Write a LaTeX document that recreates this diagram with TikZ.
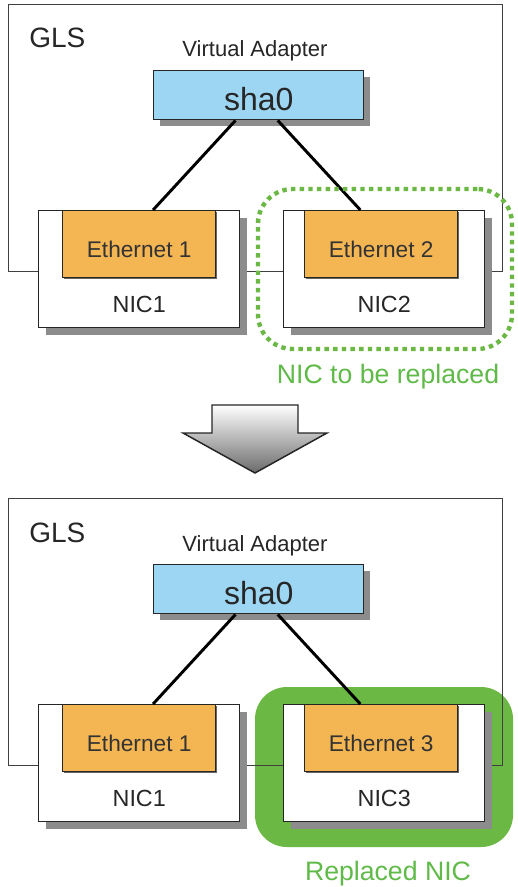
\documentclass[tikz,border=0pt]{standalone}
\usepackage{fontspec}
\setmainfont{Liberation Sans}
\usetikzlibrary{calc,shadows}
\definecolor{blueA}{HTML}{9DD6F3}
\definecolor{orangeA}{HTML}{F4B553}
\definecolor{greenA}{HTML}{6BB845}
\definecolor{greenT}{HTML}{5FBA48}
\definecolor{shadowA}{HTML}{8C8C8C}
\tikzset{
  glsbox/.style={draw=black!75, line width=0.8pt, inner sep=0pt, anchor=north west,
    minimum width=494*0.75pt, minimum height=267*0.75pt},
  glslabel/.style={font=\fontsize{21}{21}\selectfont, text=black!85, anchor=base west, inner sep=0pt},
  valabel/.style={font=\fontsize{16.5}{16.5}\selectfont, text=black!85, anchor=base, inner sep=0pt},
  shabox/.style={draw=black!85, line width=1.1pt, fill=blueA, inner sep=0pt, anchor=north west,
    minimum width=210*0.75pt, text height=40*0.75pt, text depth=9*0.75pt,
    font=\fontsize{24}{24}\selectfont, text=black!85,
    drop shadow={shadow xshift=4.5pt, shadow yshift=-5pt, fill=shadowA, opacity=1}},
  nicbox/.style={draw=black!85, line width=1.1pt, fill=white, inner sep=0pt, anchor=north west,
    minimum width=201*0.75pt, text height=102*0.75pt, text depth=15*0.75pt,
    font=\fontsize{17.5}{17.5}\selectfont, text=black!85,
    drop shadow={shadow xshift=5.5pt, shadow yshift=-5.5pt, fill=shadowA, opacity=1}},
  ethbox/.style={draw=black!85, line width=1pt, fill=orangeA, inner sep=0pt, anchor=north west,
    minimum width=153*0.75pt, text height=47*0.75pt, text depth=20*0.75pt,
    font=\fontsize{17}{17}\selectfont, text=black!80,
    drop shadow={shadow xshift=1.2pt, shadow yshift=-1.2pt, fill=black!60, opacity=1}},
  link/.style={line width=2.2pt, black},
  notelabel/.style={font=\fontsize{20}{20}\selectfont, text=greenT, anchor=base, inner sep=0pt},
  dotring/.style={draw=greenA, line width=3.3pt, dash pattern=on 3.3pt off 3.2pt, rounded corners=26pt,
    minimum width=254*0.75pt, minimum height=160*0.75pt, inner sep=0pt},
  fillring/.style={fill=greenA, rounded corners=24pt,
    minimum width=258*0.75pt, minimum height=160*0.75pt, inner sep=0pt},
  downarrow/.style={draw=black!85, line width=1.1pt, top color=white, bottom color=black!58}
}
\newcommand\drawpanel[5]{%
  \begin{scope}[shift={(0,#2)}]
    \node[glsbox] (#1gls) at (8,4) {};
    \node[glslabel] (#1glst) at (29,48) {GLS};
    \node[valabel] (#1va) at (255,57) {Virtual Adapter};
    \node[shabox] (#1sha) at (153,70) {sha0};
    \node[nicbox] (#1nicA) at (38,210) {NIC1};
    \node[ethbox] (#1ethA) at (62,210) {Ethernet 1};
    \node[nicbox] (#1nicB) at (283,210) {#4};
    \node[ethbox] (#1ethB) at (304,210) {#3};
    \draw[link] ($(#1sha.south west)!0.39!(#1sha.south east)$) -- ($(#1ethA.north west)!0.59!(#1ethA.north east)$);
    \draw[link] ($(#1sha.south west)!0.59!(#1sha.south east)$) -- ($(#1ethB.north west)!0.365!(#1ethB.north east)$);
    #5
  \end{scope}}
\begin{document}
\begin{tikzpicture}[x=0.75pt, y=-0.75pt]
  \useasboundingbox (0,0) rectangle (517,887);
  % top panel
  \drawpanel{t}{0}{Ethernet 2}{NIC2}{}
  \node[dotring] (tring) at (385,269) {};
  \node[notelabel] (tnote) at (388,383) {NIC to be replaced};
  % arrow
  \path[downarrow] (212,405) -- (298,405) -- (298,433) -- (327,433) -- (255,473)
    -- (183,433) -- (212,433) -- cycle;
  % bottom panel
  \node[fillring] (bring) at (384,767) {};
  \drawpanel{b}{494}{Ethernet 3}{NIC3}{}
  \node[notelabel] (bnote) at (388,880) {Replaced NIC};
\end{tikzpicture}
\end{document}
